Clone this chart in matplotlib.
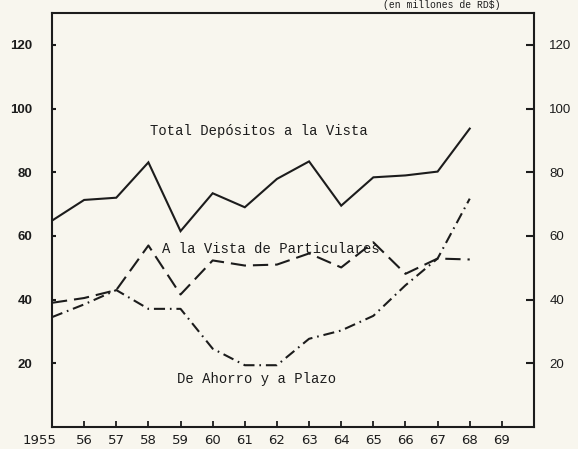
import matplotlib
matplotlib.use("Agg")
import matplotlib.pyplot as plt
import matplotlib.transforms as mtransforms

# ---- data ----
years = [1955, 1956, 1957, 1958, 1959, 1960, 1961, 1962, 1963, 1964, 1965, 1966, 1967, 1968]
total_vista = [64.8, 71.3, 72.0, 83.1, 61.5, 73.4, 69.0, 77.9, 83.4, 69.5, 78.4, 79.0, 80.2, 93.7]
vista_particulares = [39.0, 40.5, 43.0, 57.0, 41.6, 52.3, 50.7, 51.0, 54.5, 50.1, 58.0, 48.1, 52.9, 52.6]
ahorro_plazo = [34.5, 38.5, 43.0, 37.1, 37.1, 24.6, 19.4, 19.4, 27.7, 30.3, 34.9, 44.5, 52.9, 71.7]

x_ticks = list(range(1955, 1970))
x_labels = ["1955", "56", "57", "58", "59", "60", "61", "62", "63", "64", "65", "66", "67", "68", "69"]
y_ticks = [20, 40, 60, 80, 100, 120]
y_labels = ["20", "40", "60", "80", "100", "120"]

plt.rcParams["lines.scale_dashes"] = False
ink = "#1c1c1c"
bg = "#f8f6ee"

fig = plt.figure(figsize=(5.78, 4.49), dpi=100, facecolor=bg)
ax = fig.add_axes([52 / 578, 22 / 449, (534 - 52) / 578, (427 - 13) / 449])
ax.set_facecolor(bg)

ax.plot(years, total_vista, color=ink, lw=1.5, solid_joinstyle="miter")
ax.plot(years, vista_particulares, color=ink, lw=1.5, linestyle=(0, (11, 5)))
ax.plot(years, ahorro_plazo, color=ink, lw=1.5, linestyle=(0, (8, 3.5, 1.2, 3.5)))

ax.set_xlim(1955, 1970)
ax.set_ylim(0, 130)

for s in ax.spines.values():
    s.set_color(ink)
    s.set_linewidth(1.5)

ax.set_xticks(x_ticks)
ax.set_xticklabels(x_labels, fontsize=9.5, family="DejaVu Sans", color=ink)
ax.tick_params(axis="x", which="both", bottom=True, top=False, direction="in",
               length=4, width=1.3, pad=5, colors=ink)
ax.set_yticks(y_ticks)
ax.set_yticklabels(y_labels, fontsize=9.5, family="Liberation Sans", fontweight="bold", color=ink)
ax.tick_params(axis="y", which="both", left=True, right=False, direction="in",
               length=3, width=1.5, pad=14, colors=ink)

# shift the first year label to the left like the reference
lbl0 = ax.get_xticklabels()[0]
lbl0.set_horizontalalignment("right")
lbl0.set_transform(lbl0.get_transform() + mtransforms.ScaledTranslation(4 / 100, 0, fig.dpi_scale_trans))

ax2 = ax.twinx()
ax2.set_ylim(0, 130)
ax2.set_yticks(y_ticks)
ax2.set_yticklabels(y_labels, fontsize=9.5, family="Liberation Sans", color=ink)
ax2.tick_params(axis="y", which="both", left=False, right=True, labelleft=False, labelright=True,
                direction="in", length=6, width=1.5, pad=11, colors=ink)
for s in ax2.spines.values():
    s.set_visible(False)

txt_kw = dict(family="Liberation Mono", fontsize=10, color=ink, va="center", ha="left")
ax.text(1958.04, 92.8, "Total Depósitos a la Vista", **txt_kw)
ax.text(1958.42, 55.9, "A la Vista de Particulares", **txt_kw)
ax.text(1958.9, 15.2, "De Ahorro y a Plazo", **txt_kw)

fig.text(0.765, 0.999, "(en millones de RD$)", family="Liberation Mono", fontsize=7,
         color=ink, ha="center", va="top")

fig.savefig("out.png", dpi=100, facecolor=bg)
